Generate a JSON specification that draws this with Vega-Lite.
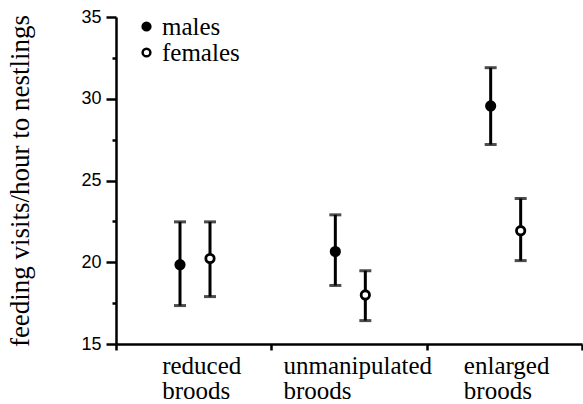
{
  "$schema": "https://vega.github.io/schema/vega-lite/v6.json",
  "width": 466,
  "height": 327,
  "autosize": {"type": "none"},
  "padding": {"left": 116, "top": 17, "right": 1, "bottom": 60},
  "background": "white",
  "config": {
    "view": {"stroke": null},
    "axis": {"grid": false, "domainColor": "black", "tickColor": "black", "labelColor": "black", "titleColor": "black"}
  },
  "data": {
    "values": [
      {"brood": "reduced broods", "sex": "males", "mean": 19.85, "lo": 17.35, "hi": 22.47},
      {"brood": "reduced broods", "sex": "females", "mean": 20.23, "lo": 17.9, "hi": 22.47},
      {"brood": "unmanipulated broods", "sex": "males", "mean": 20.66, "lo": 18.58, "hi": 22.9},
      {"brood": "unmanipulated broods", "sex": "females", "mean": 18.0, "lo": 16.43, "hi": 19.48},
      {"brood": "enlarged broods", "sex": "males", "mean": 29.56, "lo": 27.2, "hi": 31.9},
      {"brood": "enlarged broods", "sex": "females", "mean": 21.93, "lo": 20.1, "hi": 23.9}
    ]
  },
  "encoding": {
    "x": {
      "field": "brood",
      "type": "nominal",
      "sort": ["reduced broods", "unmanipulated broods", "enlarged broods"],
      "scale": {"paddingInner": 0, "paddingOuter": 0},
      "axis": {
        "title": null,
        "tickBand": "extent",
        "tickSize": 6,
        "tickWidth": 2.5,
        "domainWidth": 2.5,
        "labelFont": "Liberation Serif",
        "labelFontSize": 25,
        "labelAlign": "left",
        "labelBaseline": "top",
        "labelLineHeight": 25,
        "labelPadding": 3,
        "labelAngle": 0,
        "labelLimit": 0,
        "labelOverlap": false,
        "labelBound": false,
        "labelFlush": false,
        "labelExpr": "split(datum.label, ' ')",
        "labelOffset": {
          "condition": [
            {"test": "datum.value === 'reduced broods'", "value": -32},
            {"test": "datum.value === 'unmanipulated broods'", "value": -66}
          ],
          "value": -41
        }
      }
    },
    "xOffset": {
      "field": "sex",
      "type": "nominal",
      "sort": ["males", "females"],
      "scale": {"range": [49, 109], "paddingOuter": 0, "paddingInner": 0}
    }
  },
  "layer": [
    {
      "mark": {"type": "rule", "strokeWidth": 3, "color": "black"},
      "encoding": {
        "y": {
          "field": "lo",
          "type": "quantitative",
          "scale": {"domain": [15, 35], "nice": false, "zero": false},
          "axis": {
            "title": "feeding visits/hour to nestlings",
            "titleFont": "Liberation Serif",
            "titleFontSize": 27,
            "titleFontWeight": "normal",
            "titlePadding": 46,
            "values": [15, 17.5, 20, 22.5, 25, 27.5, 30, 32.5, 35],
            "labelExpr": "datum.value % 5 === 0 ? datum.label : ''",
            "tickSize": {"condition": {"test": "datum.value % 5 === 0", "value": 10}, "value": 4},
            "tickWidth": 2.5,
            "domainWidth": 2.5,
            "labelFont": "Liberation Sans",
            "labelFontSize": 18,
            "labelPadding": 5
          }
        },
        "y2": {"field": "hi"}
      }
    },
    {
      "mark": {"type": "tick", "size": 12, "thickness": 3, "color": "black"},
      "encoding": {"y": {"field": "hi", "type": "quantitative", "axis": {"title": "feeding visits/hour to nestlings"}}}
    },
    {
      "mark": {"type": "tick", "size": 12, "thickness": 3, "color": "black"},
      "encoding": {"y": {"field": "lo", "type": "quantitative", "axis": {"title": "feeding visits/hour to nestlings"}}}
    },
    {
      "mark": {"type": "point", "shape": "circle", "filled": true, "stroke": "black", "strokeWidth": 2.8, "opacity": 1, "size": 70},
      "encoding": {
        "y": {"field": "mean", "type": "quantitative", "axis": {"title": "feeding visits/hour to nestlings"}},
        "fill": {
          "field": "sex",
          "type": "nominal",
          "scale": {"domain": ["males", "females"], "range": ["black", "white"]},
          "legend": {
            "orient": "none",
            "legendX": 18,
            "legendY": -3,
            "title": null,
            "padding": 0,
            "labelFont": "Liberation Serif",
            "labelFontSize": 25,
            "labelColor": "black",
            "symbolType": "circle",
            "symbolSize": 60,
            "symbolStrokeColor": "black",
            "symbolStrokeWidth": 2.5,
            "labelOffset": 3,
            "rowPadding": 0
          }
        }
      }
    }
  ]
}
